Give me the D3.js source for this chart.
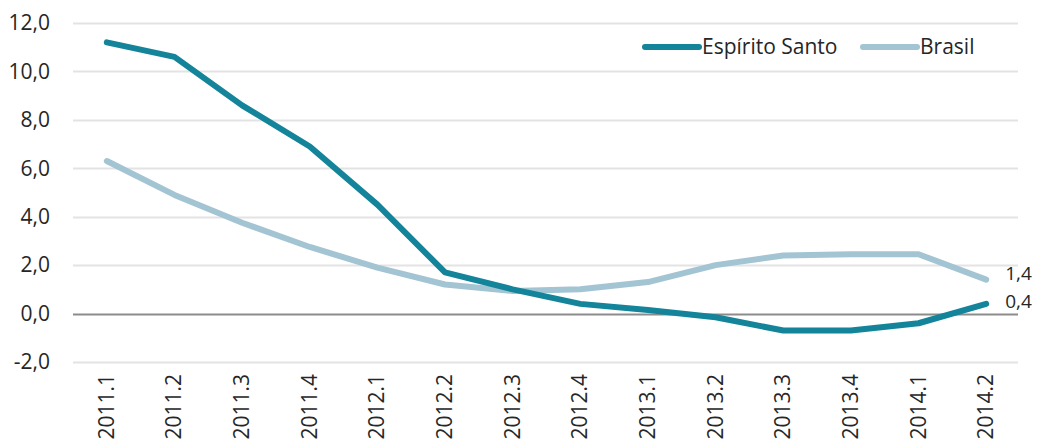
<!DOCTYPE html>
<html>
<head>
<meta charset="utf-8">
<script src="https://cdn.jsdelivr.net/npm/d3@7"></script>
<style>
body { margin: 0; background: #fff; }
text { font-family: "Open Sans", "Noto Sans", sans-serif; fill: #262626; }
</style>
</head>
<body>
<div id="app"></div>
<script>
// Chart data
var quarters = ["2011.1", "2011.2", "2011.3", "2011.4", "2012.1", "2012.2", "2012.3",
	"2012.4", "2013.1", "2013.2", "2013.3", "2013.4", "2014.1", "2014.2"];
var espiritoSanto = [11.2, 10.6, 8.6, 6.9, 4.5, 1.7, 1.0, 0.4, 0.15, -0.15, -0.7, -0.7, -0.4, 0.4];
var brasil = [6.3, 4.9, 3.75, 2.75, 1.9, 1.2, 0.93, 1.0, 1.3, 2.0, 2.4, 2.45, 2.45, 1.4];
var yTicks = [-2, 0, 2, 4, 6, 8, 10, 12];
var seriesNames = ["Espírito Santo", "Brasil"];
var seriesColors = ["#13849a", "#a3c4d3"];

var width = 1041, height = 443;
var plotLeft = 73, plotRight = 1020, plotTop = 23, plotBottom = 362;
var fontSize = "21px";

var svg = d3.select("#app").append("svg")
	.attr("width", width).attr("height", height);

var x = d3.scaleBand().domain(quarters).range([plotLeft, plotRight]);
var y = d3.scaleLinear().domain([-2, 12]).range([plotBottom, plotTop]);
var fmt = function (v) { return v.toFixed(1).replace(".", ","); };

// Gridlines
svg.append("g").selectAll("line").data(yTicks).enter().append("line")
	.attr("x1", plotLeft).attr("x2", plotRight - 2)
	.attr("y1", function (d) { return Math.round(y(d)) + 0.5; })
	.attr("y2", function (d) { return Math.round(y(d)) + 0.5; })
	.attr("stroke", function (d) { return d === 0 ? "#8c8c8c" : "#e3e3e3"; })
	.attr("stroke-width", 2);

// Y labels
svg.append("g").selectAll("text").data(yTicks).enter().append("text")
	.attr("x", 50).attr("y", function (d) { return y(d); })
	.attr("dy", "0.35em").attr("text-anchor", "end")
	.style("font-size", fontSize)
	.text(fmt);

// X labels (rotated)
svg.append("g").selectAll("text").data(quarters).enter().append("text")
	.attr("transform", function (d) {
		return "translate(" + (x(d) + x.bandwidth() / 2 + 7) + ",374) rotate(-90)";
	})
	.attr("text-anchor", "end")
	.style("font-size", fontSize)
	.text(function (d) { return d; });

// Lines
var line = d3.line()
	.x(function (d, i) { return x(quarters[i]) + x.bandwidth() / 2; })
	.y(function (d) { return y(d); });

[brasil, espiritoSanto].forEach(function (s, k) {
	svg.append("path").datum(s)
		.attr("d", line)
		.attr("fill", "none")
		.attr("stroke", seriesColors[1 - k])
		.attr("stroke-width", 6)
		.attr("stroke-linecap", "round")
		.attr("stroke-linejoin", "round");
});

// End labels
var lastX = x(quarters[quarters.length - 1]) + x.bandwidth() / 2 + 19;
svg.append("text").attr("x", lastX).attr("y", y(brasil[brasil.length - 1]) - 6)
	.attr("dy", "0.35em").style("font-size", "19px").text(fmt(brasil[brasil.length - 1]));
svg.append("text").attr("x", lastX).attr("y", y(espiritoSanto[espiritoSanto.length - 1]) - 3)
	.attr("dy", "0.35em").style("font-size", "19px").text(fmt(espiritoSanto[espiritoSanto.length - 1]));

// Legend
var legendX = [645, 863];
seriesNames.forEach(function (n, i) {
	var g = svg.append("g").attr("transform", "translate(" + legendX[i] + ",47)");
	g.append("line").attr("x1", 0).attr("x2", 54).attr("y1", 0).attr("y2", 0)
		.attr("stroke", seriesColors[i]).attr("stroke-width", 6).attr("stroke-linecap", "round");
	g.append("text").attr("x", 57).attr("dy", "0.35em").style("font-size", fontSize).text(n);
});
</script>
</body>
</html>
